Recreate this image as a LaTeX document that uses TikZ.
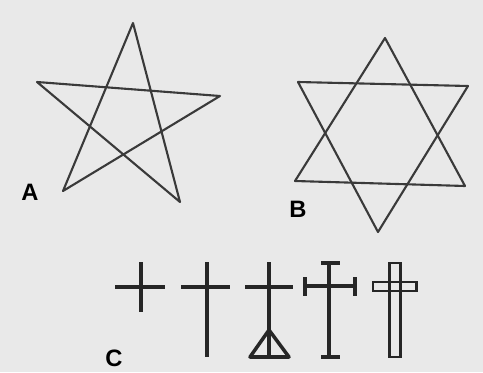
\documentclass[tikz,border=0pt]{standalone}
\usepackage{fontspec}
\setsansfont{Liberation Sans}
\usepackage{xcolor}
\usetikzlibrary{calc}
\definecolor{paperbg}{HTML}{E9E9E9}
\definecolor{inkgray}{HTML}{3A3A3A}

\begin{document}
\begin{tikzpicture}[x=0.02cm,y=-0.02cm]
  \tikzset{star line/.style={draw=inkgray,line width=1.2pt,line join=round},
    cross line/.style={draw=black!85,line width=2pt},
    fig label/.style={font=\sffamily\bfseries\fontsize{13.5}{15}\selectfont,inner sep=0pt}}%

  \fill[paperbg] (0,0) rectangle (483,372);
  \useasboundingbox (0,0) rectangle (483,372);

  % pentagram
  \coordinate (At) at (133,23);
  \coordinate (Al) at (37,82);
  \coordinate (Ar) at (220,96);
  \coordinate (Abl) at (63,191);
  \coordinate (Abr) at (180,202);
  \draw[star line] (At) -- (Abl) -- (Ar) -- (Al) -- (Abr) -- cycle;
  \node[fig label] (labA) at (30,192) {A};

  % hexagram
  \coordinate (Bt) at (385,38);
  \coordinate (Bbl) at (295,181);
  \coordinate (Bbr) at (465,186);
  \coordinate (Btl) at (298,82);
  \coordinate (Btr) at (468,86);
  \coordinate (Bb) at (378,232);
  \draw[star line] (Bt) -- (Bbl) -- (Bbr) -- cycle;
  \draw[star line] (Btl) -- (Btr) -- (Bb) -- cycle;
  \node[fig label] (labB) at (298,209) {B};

  % crosses
  \draw[cross line] (115,287) -- (165,287) (141,262) -- (141,312);
  \draw[cross line] (181,287) -- (230,287) (207,262) -- (207,357);
  \draw[cross line] (245,287) -- (293,287) (269,262) -- (269,357);
  \draw[cross line,line join=round] (269,330) -- (250,357) -- (289,357) -- cycle;
  \draw[cross line] (329,263) -- (329,357) (321,263) -- (340,263)
    (321,357) -- (340,357) (305,286) -- (355,286)
    (305,277) -- (305,296) (355,277) -- (355,296);
  \draw[cross line,line width=1.7pt] (389,263) rectangle (400,357);
  \draw[cross line,line width=1.7pt] (373,282) rectangle (416,291);
  \node[fig label] (labC) at (114,358) {C};
\end{tikzpicture}
\end{document}
